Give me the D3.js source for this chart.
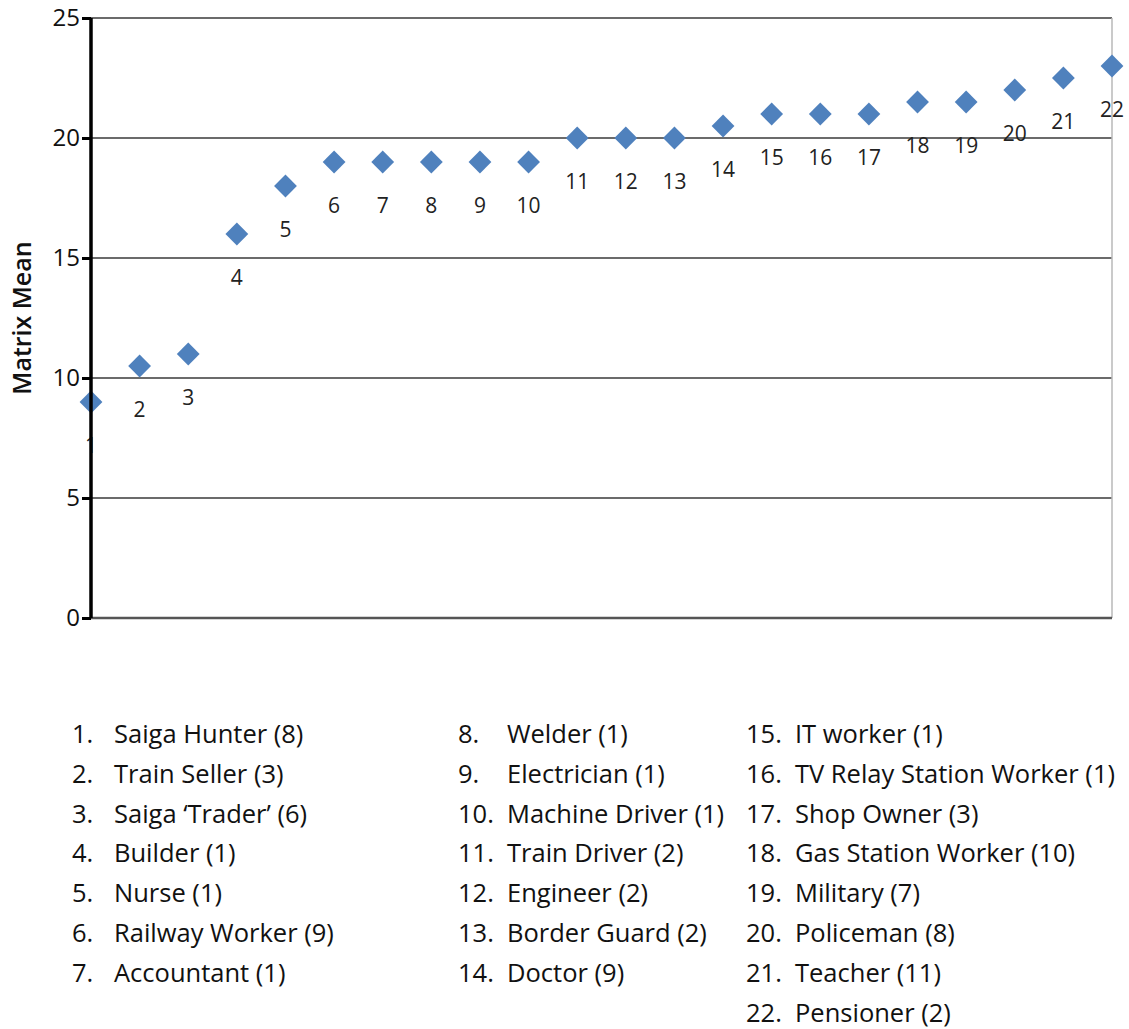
<!DOCTYPE html>
<html>
<head>
<meta charset="utf-8">
<script src="https://cdn.jsdelivr.net/npm/d3@7"></script>
<style>
  html, body { margin: 0; padding: 0; background: #fff; }
  svg { display: block; font-family: "Open Sans", Lato, sans-serif; }
</style>
</head>
<body>
<svg id="chart" width="1129" height="1029"></svg>
<script>
// Occupation index (x) and the matrix mean score for each group (y)
const occupationIds = [1, 2, 3, 4, 5, 6, 7, 8, 9, 10, 11, 12, 13, 14, 15, 16, 17, 18, 19, 20, 21, 22];
const matrixMeans = [9, 10.5, 11, 16, 18, 19, 19, 19, 19, 19, 20, 20, 20, 20.5, 21, 21, 21, 21.5, 21.5, 22, 22.5, 23];
const occupationNames = [
  "Saiga Hunter (8)", "Train Seller (3)", "Saiga \u2018Trader\u2019 (6)", "Builder (1)",
  "Nurse (1)", "Railway Worker (9)", "Accountant (1)", "Welder (1)", "Electrician (1)",
  "Machine Driver (1)", "Train Driver (2)", "Engineer (2)", "Border Guard (2)", "Doctor (9)",
  "IT worker (1)", "TV Relay Station Worker (1)", "Shop Owner (3)", "Gas Station Worker (10)",
  "Military (7)", "Policeman (8)", "Teacher (11)", "Pensioner (2)"
];
const yTicks = [0, 5, 10, 15, 20, 25];
const yTitle = "Matrix Mean";

const svg = d3.select("#chart");
const plot = { left: 91, right: 1112, top: 18, bottom: 618 };

const x = d3.scaleLinear().domain([1, 22]).range([plot.left, plot.right]);
const y = d3.scaleLinear().domain([0, 25]).range([plot.bottom, plot.top]);

// Horizontal gridlines
svg.append("g")
  .selectAll("line")
  .data(yTicks.filter(t => t > 0))
  .join("line")
  .attr("x1", plot.left).attr("x2", plot.right)
  .attr("y1", d => y(d)).attr("y2", d => y(d))
  .attr("stroke", "#3a3a3a").attr("stroke-width", 1.6);

// Right border
svg.append("line")
  .attr("x1", plot.right).attr("x2", plot.right)
  .attr("y1", plot.top).attr("y2", plot.bottom)
  .attr("stroke", "#b8b8b8").attr("stroke-width", 1.5);

// Baseline
svg.append("line")
  .attr("x1", plot.left).attr("x2", plot.right)
  .attr("y1", y(0)).attr("y2", y(0))
  .attr("stroke", "#555").attr("stroke-width", 2.5);

// Point labels (drawn before the axis so "1" sits under it)
svg.append("g")
  .selectAll("text")
  .data(occupationIds)
  .join("text")
  .attr("x", d => x(d))
  .attr("y", (d, i) => y(matrixMeans[i]) + 51)
  .attr("text-anchor", "middle")
  .attr("font-size", 21)
  .attr("fill", "#222")
  .text(d => d);

// Diamond markers
const diamond = d3.symbol().type(d3.symbolSquare).size(260);
svg.append("g")
  .selectAll("path")
  .data(occupationIds)
  .join("path")
  .attr("d", diamond)
  .attr("transform", (d, i) => `translate(${x(d)},${y(matrixMeans[i])}) rotate(45)`)
  .attr("fill", "#4F81BD");

// Y axis
const yAxis = svg.append("g")
  .attr("transform", `translate(${plot.left},0)`)
  .call(d3.axisLeft(y).tickValues(yTicks).tickSize(9).tickPadding(2));
yAxis.select(".domain").attr("stroke", "#000").attr("stroke-width", 3.5)
  .attr("d", `M0,${plot.top}V${plot.bottom}`);
yAxis.selectAll(".tick line").attr("stroke", "#000").attr("stroke-width", 3);
yAxis.selectAll(".tick text")
  .attr("font-size", 24).attr("fill", "#111")
  .attr("font-family", "'Open Sans', sans-serif");

// Y axis title
svg.append("text")
  .attr("transform", `translate(31,${(plot.top + plot.bottom) / 2}) rotate(-90)`)
  .attr("text-anchor", "middle")
  .attr("font-size", 25)
  .attr("font-weight", 600)
  .attr("fill", "#111")
  .text(yTitle);

// Numbered legend in three columns
const legendCols = [
  { start: 0, end: 7, numX: 72, textX: 114 },
  { start: 7, end: 14, numX: 458, textX: 507 },
  { start: 14, end: 22, numX: 746, textX: 795 }
];
const legend = svg.append("g").attr("font-size", 25.5).attr("fill", "#111");
legendCols.forEach(col => {
  const rows = occupationIds.slice(col.start, col.end);
  rows.forEach((id, r) => {
    const yy = 743 + r * 39.8;
    legend.append("text").attr("x", col.numX).attr("y", yy).text(id + ".");
    legend.append("text").attr("x", col.textX).attr("y", yy).text(occupationNames[id - 1]);
  });
});
</script>
</body>
</html>
